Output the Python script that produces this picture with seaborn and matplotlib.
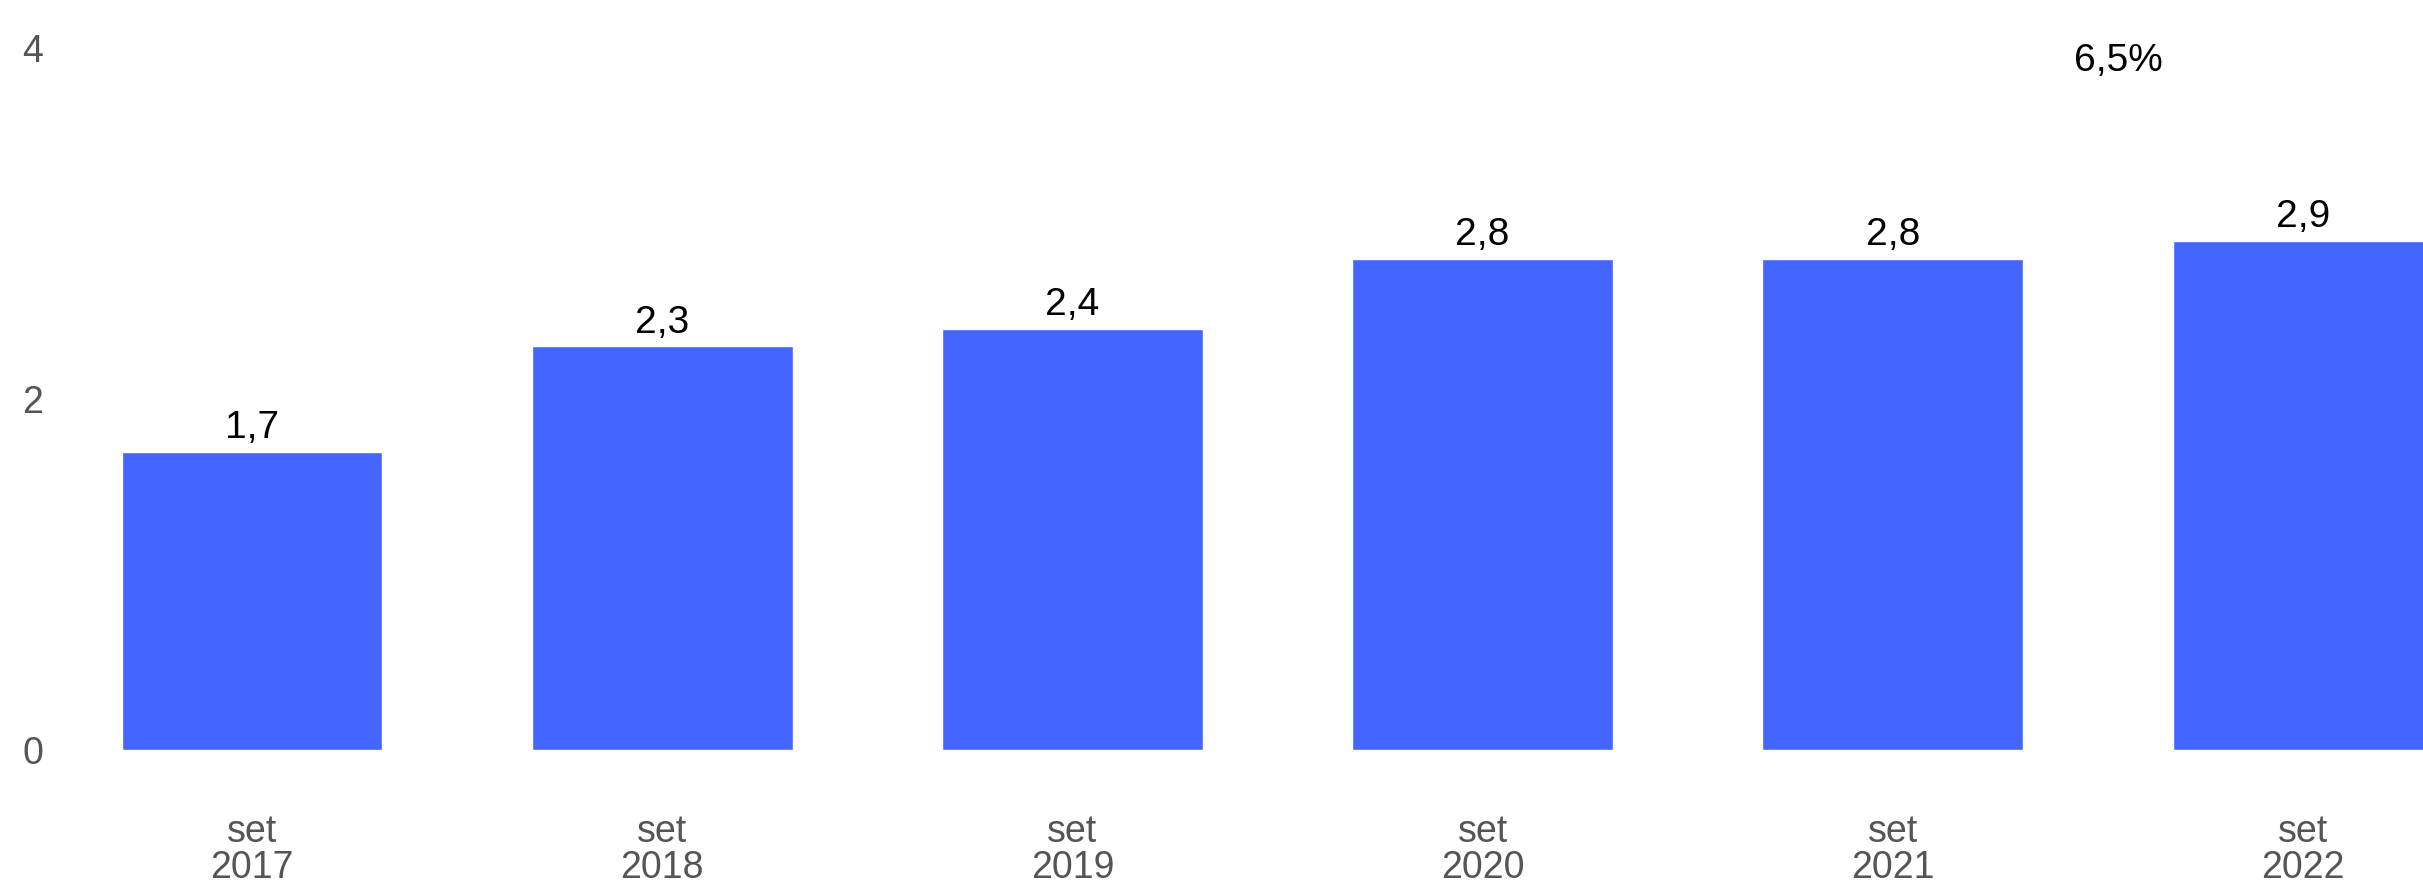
import matplotlib
matplotlib.use("Agg")
import matplotlib.pyplot as plt
import seaborn as sns
import pandas as pd

# Data
periods = ["set\n2017", "set\n2018", "set\n2019", "set\n2020", "set\n2021", "set\n2022"]
values = [1.7, 2.3, 2.4, 2.8, 2.8, 2.9]
y_ticks = [0, 2, 4]
growth_label = "6,5%"

BAR_COLOR = "#4466FF"
TICK_COLOR = "#555555"

sns.set_theme(style="white")
plt.rcParams["font.family"] = ["Liberation Sans", "DejaVu Sans"]

fig = plt.figure(figsize=(24.23, 8.86), dpi=100)
W, H = 2423, 886
left_px, right_px, top_px, bottom_px = 60, 2423, 40, 750
ax = fig.add_axes([left_px / W, (H - bottom_px) / H,
                   (right_px - left_px) / W, (bottom_px - top_px) / H])

df = pd.DataFrame({"period": periods, "value": values})
sns.barplot(data=df, x="period", y="value", color=BAR_COLOR, saturation=1,
            width=0.636, ax=ax)

# Category spacing ~410 px, first centre at ~252 px
ax.set_xlim((left_px - 252) / 410.2, (right_px - 252) / 410.2)
ax.set_ylim(0, (bottom_px - top_px) / 175.5)

ax.bar_label(ax.containers[0],
             labels=[f"{v:.1f}".replace(".", ",") for v in values],
             padding=4, fontsize=28, color="black")

ax.set_yticks(y_ticks)
ax.set_yticklabels([str(t) for t in y_ticks])
ax.tick_params(axis="y", length=0, pad=27, labelsize=27, labelcolor=TICK_COLOR)
ax.tick_params(axis="x", length=0, pad=46, labelsize=27, labelcolor=TICK_COLOR)
for lbl in ax.get_xticklabels():
    lbl.set_linespacing(1.0)
for lbl in ax.get_yticklabels():
    lbl.set_horizontalalignment("left")

ax.set_xlabel("")
ax.set_ylabel("")
for s in ax.spines.values():
    s.set_visible(False)
ax.grid(False)

# Growth annotation between the last two periods
ax.text(4.55, 3.925, growth_label, ha="center", va="center",
        fontsize=28, color="black")

fig.savefig("out.png", dpi=100, facecolor="white")
